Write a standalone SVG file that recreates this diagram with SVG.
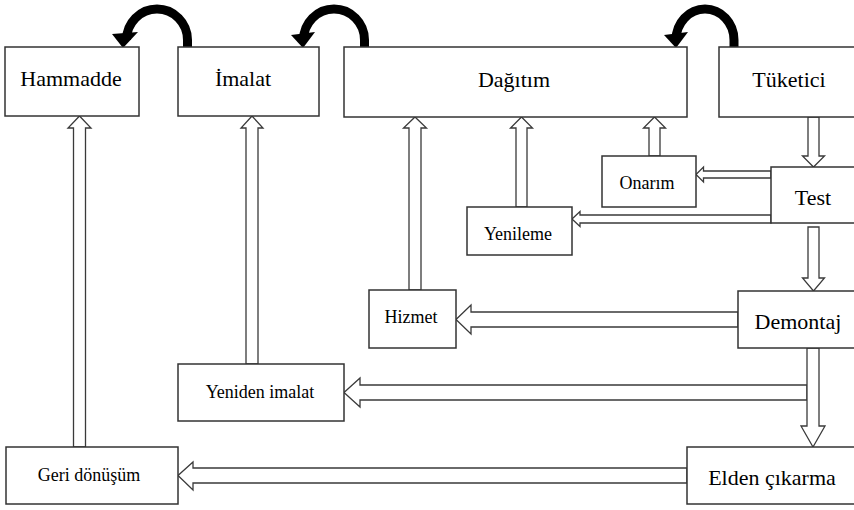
<svg xmlns="http://www.w3.org/2000/svg" width="854" height="510" viewBox="0 0 854 510">
<style>
.box{fill:#fff;stroke:#333;stroke-width:1.5}
.big{font-family:"Liberation Serif","Times New Roman",serif;font-size:22px;fill:#000;text-anchor:middle}
.small{font-family:"Liberation Serif","Times New Roman",serif;font-size:18px;fill:#000;text-anchor:middle}
.blk{fill:#fff;stroke:#3a3a3a;stroke-width:1.3;stroke-linejoin:miter}
.arc{fill:none;stroke:#000;stroke-width:9}
.head{fill:#000}
</style>
<rect width="854" height="510" fill="#fff"/>
<g id="connectors">
  <!-- curved black arrows -->
  <path class="arc" d="M187.5,48 L187.5,40 A30.5,31 0 0 0 126.5,40"/>
  <polygon class="head" points="112,34 138,32 123,48"/>
  <path class="arc" d="M364.5,48 L364.5,40 A30.5,31 0 0 0 303.5,40"/>
  <polygon class="head" points="291,35 315,32 303,48"/>
  <path class="arc" d="M734,48 L734,40 A29,31 0 0 0 676,40"/>
  <polygon class="head" points="664,35 688,32 676,48"/>
  <!-- up arrows -->
  <polygon class="blk" points="79.5,116 91,128 85.5,128 85.5,447 73.5,447 73.5,128 68,128"/>
  <polygon class="blk" points="252,116 263,128 258,128 258,364 246,364 246,128 241,128"/>
  <polygon class="blk" points="415,117 426.5,128 421,128 421,290 409,290 409,128 403.5,128"/>
  <polygon class="blk" points="521.5,117 532.5,128 527,128 527,207 516,207 516,128 510.5,128"/>
  <polygon class="blk" points="654.5,117 665.5,128 660,128 660,156 649,156 649,128 643.5,128"/>
  <!-- left arrows -->
  <polygon class="blk" points="696,174.5 703.5,167 703.5,171 771,171 771,178 703.5,178 703.5,182"/>
  <polygon class="blk" points="572,219 580,211.5 580,215 771,215 771,223 580,223 580,226.5"/>
  <polygon class="blk" points="456,319.5 471,305 471,312 738,312 738,327 471,327 471,334"/>
  <polygon class="blk" points="344,392.5 360,378 360,385 807,385 807,400 360,400 360,407"/>
  <polygon class="blk" points="178,475.5 193,462 193,468 687,468 687,483 193,483 193,490"/>
  <!-- down arrows -->
  <polygon class="blk" points="808,117 819,117 819,156 824.5,156 813.5,167 802.5,156 808,156"/>
  <polygon class="blk" points="808,227 819,227 819,278 824.5,278 813.5,291 802.5,278 808,278"/>
  <polygon class="blk" points="807,348 819,348 819,426 825,426 813,447 801,426 807,426"/>
</g>
<g id="hammadde"><rect class="box" x="5" y="47" width="134" height="69"/><text class="big" x="71" y="86">Hammadde</text></g>
<g id="imalat"><rect class="box" x="178" y="47" width="141" height="69"/><text class="big" x="243" y="86">İmalat</text></g>
<g id="dagitim"><rect class="box" x="344" y="47" width="343" height="70"/><text class="big" x="514" y="87">Dağıtım</text></g>
<g id="tuketici"><rect class="box" x="719" y="47" width="145" height="70"/><text class="big" x="789" y="87">Tüketici</text></g>
<g id="onarim"><rect class="box" x="602" y="156" width="94" height="51"/><text class="small" x="647" y="189">Onarım</text></g>
<g id="test"><rect class="box" x="771" y="167" width="93" height="56"/><text class="big" x="813" y="205">Test</text></g>
<g id="yenileme"><rect class="box" x="467" y="207" width="105" height="48"/><text class="small" x="518" y="240">Yenileme</text></g>
<g id="hizmet"><rect class="box" x="369" y="290" width="87" height="58"/><text class="small" x="411" y="323">Hizmet</text></g>
<g id="demontaj"><rect class="box" x="738" y="291" width="126" height="57"/><text class="big" x="798" y="329">Demontaj</text></g>
<g id="yeniden-imalat"><rect class="box" x="178" y="364" width="166" height="57"/><text class="small" x="260" y="398">Yeniden imalat</text></g>
<g id="geri-donusum"><rect class="box" x="6" y="447" width="172" height="57"/><text class="small" x="89" y="481">Geri dönüşüm</text></g>
<g id="elden-cikarma"><rect class="box" x="687" y="447" width="177" height="57"/><text class="big" x="772" y="485">Elden çıkarma</text></g>
</svg>
